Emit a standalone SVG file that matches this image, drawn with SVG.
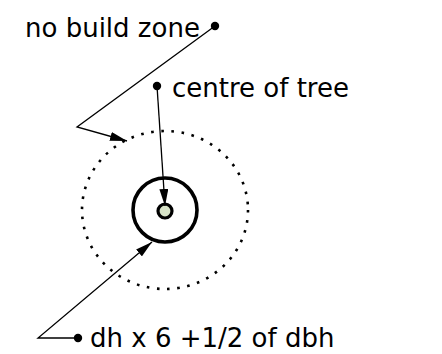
<svg xmlns="http://www.w3.org/2000/svg" width="442" height="354" viewBox="0 0 442 354">
  <style>
    .label { font-family: "DejaVu Sans", Verdana, sans-serif; font-size: 26px; fill: #000; }
    .lead { fill: none; stroke: #000; stroke-width: 1.3; }
    .dot { fill: #000; }
  </style>
  <defs>
    <marker id="arrow" markerUnits="userSpaceOnUse" markerWidth="18" markerHeight="9" refX="17" refY="4.5" orient="auto">
      <path d="M0,0 L17,4.5 L0,9 z" fill="#000"/>
    </marker>
  </defs>

  <rect width="442" height="354" fill="#fff"/>

  <!-- protection zone around the tree -->
  <g id="zone">
    <ellipse cx="165" cy="210" rx="83" ry="79" fill="none" stroke="#000" stroke-width="2.6" stroke-dasharray="2.6 7.6"/>
  </g>

  <g id="trunk">
    <circle cx="165" cy="210" r="32" fill="none" stroke="#000" stroke-width="3.6"/>
  </g>

  <g id="centre">
    <circle cx="165" cy="211" r="7" fill="#d6e2c6" stroke="#000" stroke-width="3.2"/>
  </g>

  <!-- leader lines -->
  <g id="connectors">
    <polyline class="lead" points="215,26 77,127 127,141" marker-end="url(#arrow)"/>
    <line class="lead" x1="157" y1="86" x2="165" y2="206" marker-end="url(#arrow)"/>
    <polyline class="lead" points="78,338 38,338 152,242" marker-end="url(#arrow)"/>
  </g>

  <g id="label-zone">
    <circle class="dot" cx="215" cy="26" r="4.2"/>
    <text class="label" x="25" y="37">no build zone</text>
  </g>

  <g id="label-centre">
    <circle class="dot" cx="157" cy="86" r="4.2"/>
    <text class="label" x="172" y="97">centre of tree</text>
  </g>

  <g id="label-dbh">
    <circle class="dot" cx="78" cy="338" r="4.2"/>
    <text class="label" x="90" y="347">dh x 6 +1/2 of dbh</text>
  </g>
</svg>
